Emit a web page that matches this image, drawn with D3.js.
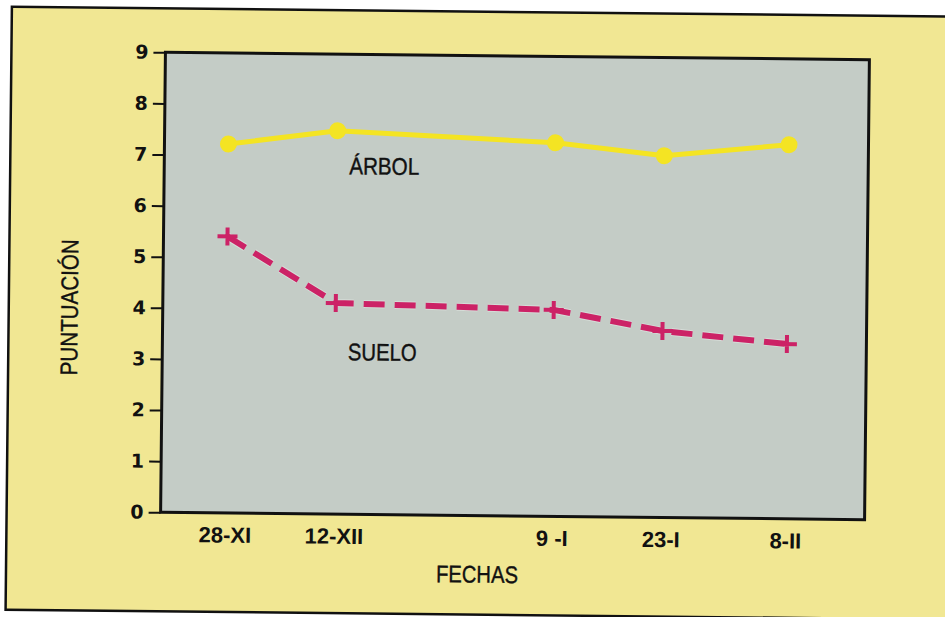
<!DOCTYPE html>
<html><head><meta charset="utf-8">
<script src="https://cdn.jsdelivr.net/npm/d3@7"></script>
<style>body{margin:0;background:#fff} svg{display:block}</style>
</head><body>
<svg id="chart" width="945" height="617"></svg>
<script>
// ---- data ----
const dates = ["1990-11-28", "1990-12-12", "1991-01-09", "1991-01-23", "1991-02-08"];
const dateLabels = ["28-XI", "12-XII", "9 -I", "23-I", "8-II"];
const arbol = [7.22, 7.50, 7.31, 7.08, 7.32];
const suelo = [5.41, 4.13, 4.04, 3.65, 3.42];
const yTicks = [0, 1, 2, 3, 4, 5, 6, 7, 8, 9];
const seriesNames = ["ÁRBOL", "SUELO"];
const xTitle = "FECHAS";
const yTitle = "PUNTUACIÓN";

// ---- layout ----
const W = 945, H = 617;
const plot = {left: 163, top: 56, right: 867, bottom: 516};
const colors = {panel: "#f1e793", plotBg: "#c4ccc6", arbol: "#f4e423", suelo: "#cc2266", ink: "#111"};

const parse = d3.timeParse("%Y-%m-%d");
const dt = dates.map(parse);

const x = d3.scaleTime().domain([dt[0], dt[dt.length - 1]]).range([227, 787.5]);
const y = d3.scaleLinear().domain([0, 9]).range([plot.bottom, plot.top]);

const svg = d3.select("#chart");
svg.append("rect").attr("width", W).attr("height", H).attr("fill", "#fff");

// the printed figure is scanned slightly tilted
const g = svg.append("g").attr("transform", "rotate(0.6, 515, 286)");

g.append("rect").attr("x", 9).attr("y", 12).attr("width", 990).attr("height", 603)
  .attr("fill", colors.panel).attr("stroke", colors.ink).attr("stroke-width", 2.5);

g.append("rect").attr("x", plot.left).attr("y", plot.top)
  .attr("width", plot.right - plot.left).attr("height", plot.bottom - plot.top)
  .attr("fill", colors.plotBg).attr("stroke", colors.ink).attr("stroke-width", 3);

// y axis
const yAxis = g.append("g").attr("transform", `translate(${plot.left},0)`)
  .call(d3.axisLeft(y).tickValues(yTicks).tickSize(12).tickPadding(5).tickFormat(d3.format("d")));
yAxis.select(".domain").remove();
yAxis.selectAll(".tick line").attr("stroke", colors.ink).attr("stroke-width", 2);
yAxis.selectAll(".tick text").attr("fill", colors.ink)
  .style("font-family", "'DejaVu Sans', sans-serif").style("font-weight", "bold").style("font-size", "19px");

// x axis
const xAxis = g.append("g").attr("transform", `translate(0,${plot.bottom})`)
  .call(d3.axisBottom(x).tickValues(dt).tickSize(0).tickPadding(14).tickFormat((d, i) => dateLabels[i]));
xAxis.select(".domain").remove();
xAxis.selectAll(".tick text").attr("fill", colors.ink)
  .style("font-family", "'Liberation Sans', Arial, sans-serif").style("font-weight", "bold").style("font-size", "22px");

// lines
const line = d3.line().x((d, i) => x(dt[i])).y(d => y(d));

g.append("path").datum(arbol).attr("d", line).attr("fill", "none")
  .attr("stroke", colors.arbol).attr("stroke-width", 5).attr("stroke-linejoin", "round");
g.selectAll("circle.arbol").data(arbol).join("circle").attr("class", "arbol")
  .attr("cx", (d, i) => x(dt[i])).attr("cy", d => y(d)).attr("r", 8.5).attr("fill", colors.arbol);

// faint light halo under the dashed line, as in the print
g.append("path").datum(suelo).attr("d", line).attr("fill", "none")
  .attr("stroke", "#dde2de").attr("stroke-width", 8).attr("stroke-dasharray", "21 10").attr("opacity", 0.7);
g.append("path").datum(suelo).attr("d", line).attr("fill", "none")
  .attr("stroke", colors.suelo).attr("stroke-width", 6).attr("stroke-dasharray", "21 10");
g.selectAll("path.cross").data(suelo).join("path").attr("class", "cross")
  .attr("transform", (d, i) => `translate(${x(dt[i])},${y(d)})`)
  .attr("d", "M-10,0H10M0,-9V9").attr("stroke", colors.suelo).attr("stroke-width", 4).attr("fill", "none");

// text labels
const labelFont = "'Liberation Sans', Arial, sans-serif";
function label(txt, px, py, len, rot) {
  const t = g.append("text").text(txt).attr("x", px).attr("y", py)
    .attr("text-anchor", "middle").attr("fill", colors.ink)
    .attr("stroke", colors.ink).attr("stroke-width", 0.4)
    .style("font-family", labelFont).style("font-size", "24px")
    .attr("textLength", len).attr("lengthAdjust", "spacingAndGlyphs");
  if (rot) t.attr("transform", `rotate(${rot},${px},${py})`);
  return t;
}
label(seriesNames[0], 383, 176, 70);
label(seriesNames[1], 383, 362, 69);
label(xTitle, 480, 583, 82);
label(yTitle, 78, 312, 136, -90);
</script>
</body></html>
